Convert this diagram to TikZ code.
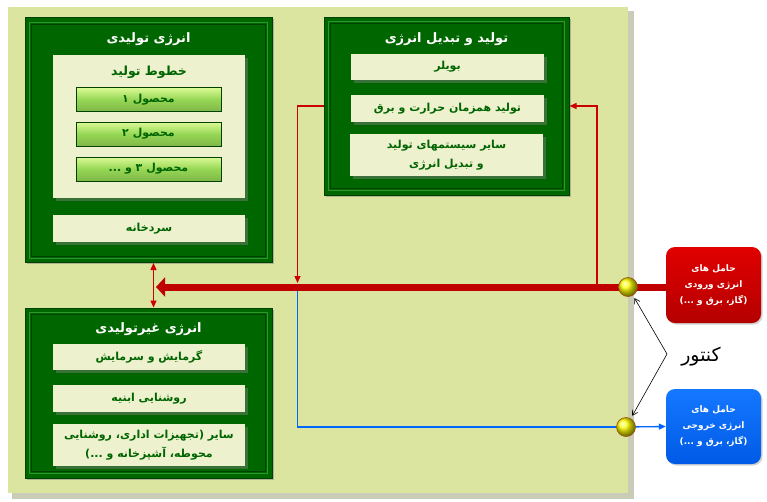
\documentclass[tikz,border=0pt]{standalone}
\usepackage{fontspec}
\usepackage{tikz}
\usetikzlibrary{arrows.meta,shadows}
\TeXXeTstate=1
\newfontfamily\farsi[Script=Arabic]{DejaVu Sans}
\newcommand{\rl}[1]{\beginR #1\endR}

\definecolor{panel}{RGB}{220,229,160}
\definecolor{panelshade}{RGB}{110,115,60}
\definecolor{gdark}{RGB}{0,102,0}
\definecolor{gedge}{RGB}{0,66,0}
\definecolor{glight}{RGB}{45,150,45}
\definecolor{cream}{RGB}{237,241,206}
\definecolor{btnbody}{RGB}{150,215,85}
\definecolor{btntop}{RGB}{220,250,150}
\definecolor{gtext}{RGB}{0,100,0}
\definecolor{barred}{RGB}{192,0,0}
\definecolor{thinred}{RGB}{205,0,0}
\definecolor{inred}{RGB}{225,0,0}
\definecolor{inreddark}{RGB}{180,0,0}
\definecolor{outblue}{RGB}{20,120,255}
\definecolor{outbluedark}{RGB}{0,90,230}
\definecolor{lineblue}{RGB}{0,102,255}

\tikzset{
  gbox/.style={draw=gedge, fill=gdark, line width=1pt, inner sep=0pt,
    drop shadow={shadow xshift=1.5pt, shadow yshift=-1.5pt, opacity=0.5}},
  gtitle/.style={text=white, font=\farsi\bfseries\fontsize{13}{15}\selectfont},
  cbox/.style={fill=cream, inner sep=0pt, align=center, text=gtext,
    font=\farsi\bfseries\fontsize{11}{19}\selectfont,
    drop shadow={shadow xshift=2.5pt, shadow yshift=-2.5pt, opacity=0.45}},
  pbtn/.style={draw=gedge, line width=0.9pt, inner sep=0pt, text=gtext,
    top color=btntop, bottom color=btnbody!85!black, middle color=btnbody,
    font=\farsi\bfseries\fontsize{11}{13}\selectfont},
  carrier/.style={rounded corners=9pt, inner sep=0pt, align=center, text=white,
    font=\farsi\bfseries\fontsize{9}{16}\selectfont,
    drop shadow={shadow xshift=1.5pt, shadow yshift=-1.5pt, opacity=0.35}},
  meter/.style={circle, draw=orange!60!black, line width=0.6pt, inner sep=0pt,
    minimum size=19pt, ball color=yellow},
  redline/.style={thinred, line width=1.3pt},
  blueline/.style={lineblue, line width=1.3pt},
  mainbar/.style={barred, line width=7pt, -{Triangle[length=9pt,width=19pt]}},
  kline/.style={black, line width=0.6pt, -{Straight Barb[length=5pt,width=6pt]}}
}

\begin{document}
\begin{tikzpicture}[x=1pt, y=-1pt]
  \useasboundingbox (0,0) rectangle (767,501);
  \fill[white] (0,0) rectangle (767,501);
  % background panel
  \fill[panelshade!60, opacity=0.6] (12,11) rectangle (634,499);
  \fill[panel] (8,7) rectangle (628,493);

  % energy for production
  \node[gbox, minimum width=247pt, minimum height=245pt] (prod) at (148.5,140) {};
  \node[gtitle] (prodtitle) at (148.5,39) {\rl{انرژی تولیدی}};
  \node[cbox, minimum width=192pt, minimum height=143pt] (lines) at (149,126.5) {};
  \node[text=gtext, font=\farsi\bfseries\fontsize{12.5}{15}\selectfont] (linestitle) at (149,72) {\rl{خطوط تولید}};
  \foreach \i/\y/\t in {1/99.5/{محصول ۱}, 2/134/{محصول ۲}, 3/169/{محصول ۳ و ...}}
    \node[pbtn, minimum width=145pt, minimum height=24pt] (btn\i) at (148.5,\y) {\rl{\t}};
  \node[cbox, minimum width=192pt, minimum height=27pt] (cold) at (149,228.5) {\rl{سردخانه}};

  % energy conversion
  \node[gbox, minimum width=245pt, minimum height=178pt] (conv) at (446.5,106) {};
  \node[gtitle] (convtitle) at (446.5,39) {\rl{تولید و تبدیل انرژی}};
  \node[cbox, minimum width=193pt, minimum height=26pt] (boiler) at (447.5,67) {\rl{بویلر}};
  \node[cbox, minimum width=193pt, minimum height=27pt] (chp) at (447.5,108.5) {\rl{تولید همزمان حرارت و برق}};
  \node[cbox, minimum width=193pt, minimum height=42pt] (convother) at (446.5,155)
    {\rl{سایر سیستمهای تولید}\\\rl{و تبدیل انرژی}};

  % non-production energy
  \node[gbox, minimum width=247pt, minimum height=170pt] (nonprod) at (148.5,393) {};
  \node[gtitle] (nonprodtitle) at (148.5,329) {\rl{انرژی غیرتولیدی}};
  \node[cbox, minimum width=192pt, minimum height=26pt] (hvac) at (149,357) {\rl{گرمایش و سرمایش}};
  \node[cbox, minimum width=192pt, minimum height=27pt] (light) at (149,398.5) {\rl{روشنایی ابنیه}};
  \node[cbox, minimum width=192pt, minimum height=42pt] (misc) at (149,445)
    {\rl{سایر (تجهیزات اداری، روشنایی}\\\rl{محوطه، آشپزخانه و ...)}};

  % bevel lines of the green frames
  \foreach \b in {prod,conv,nonprod} {
    \draw[glight, line width=1pt] ([shift={(5pt,5pt)}]\b.south west) rectangle ([shift={(-5pt,-5pt)}]\b.north east);
    \draw[gedge, line width=0.8pt] ([shift={(7pt,7pt)}]\b.south west) rectangle ([shift={(-7pt,-7pt)}]\b.north east);
  }

  % carriers in and out
  \node[carrier, top color=inred, bottom color=inreddark, minimum width=95pt, minimum height=76pt] (inbox) at (713.5,285)
    {\rl{حامل های}\\\rl{انرژی ورودی}\\\rl{(گاز، برق و ...)}};
  \node[carrier, top color=outblue, bottom color=outbluedark, minimum width=95pt, minimum height=75pt] (outbox) at (713.5,426.5)
    {\rl{حامل های}\\\rl{انرژی خروجی}\\\rl{(گاز، برق و ...)}};

  \coordinate (barend) at (156,287);
  \coordinate (leftdrop) at (297.5,283);
  \coordinate (rightrise) at (597,287);
  \coordinate (bluedrop) at (297.5,287);
  \coordinate (kpt) at (667,354);

  % connectors
  \draw[blueline] (bluedrop) |- (626,427) coordinate (bluecorner);
  \draw[redline, -{Triangle[length=7pt,width=6pt]}] (conv.west) -| (leftdrop);
  \draw[redline, -{Triangle[length=7pt,width=6pt]}] (rightrise) |- (conv.east);
  \draw[redline, {Triangle[length=7pt,width=6pt]}-{Triangle[length=7pt,width=6pt]}]
    ([xshift=5pt]prod.south) -- ([xshift=5pt]nonprod.north);
  \draw[mainbar] (barend -| inbox.west) -- (barend);

  \node[meter] (meterin) at (628,287) {};
  \node[meter] (meterout) at (626,427) {};
  \draw[blueline, -{Triangle[length=7pt,width=6pt]}] (meterout) -- (outbox.west);

  \node[font=\farsi\fontsize{19}{22}\selectfont] (kontur) at (701,357) {\rl{کنتور}};
  \draw[kline, shorten >=3pt] (kpt) -- (meterin);
  \draw[kline, shorten >=3pt] (kpt) -- (meterout);
\end{tikzpicture}
\end{document}
